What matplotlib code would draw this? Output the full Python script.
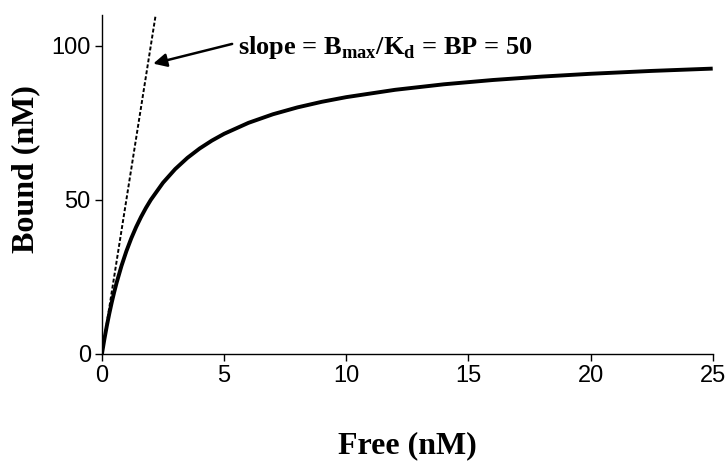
import matplotlib.pyplot as plt

# Saturation binding curve (Bmax = 100 nM, Kd = 2 nM)
free_nM = [0, 0.1, 0.2, 0.3, 0.4, 0.5, 0.6, 0.8, 1.0, 1.2, 1.4, 1.6, 1.8, 2.0,
           2.5, 3, 3.5, 4, 4.5, 5, 6, 7, 8, 9, 10, 12, 14, 16, 18, 20, 22.5, 25]
bound_nM = [0, 4.76, 9.09, 13.04, 16.67, 20.0, 23.08, 28.57, 33.33, 37.5, 41.18,
            44.44, 47.37, 50.0, 55.56, 60.0, 63.64, 66.67, 69.23, 71.43, 75.0,
            77.78, 80.0, 81.82, 83.33, 85.71, 87.5, 88.89, 90.0, 90.91, 91.84, 92.59]
bp_slope = 50  # Bmax / Kd

x_ticks = [0, 5, 10, 15, 20, 25]
y_ticks = [0, 50, 100]

plt.rcParams['mathtext.fontset'] = 'custom'
plt.rcParams['mathtext.rm'] = 'Liberation Serif:bold'

fig = plt.figure(figsize=(7.28, 4.67), dpi=100)
ax = fig.add_axes([0.140, 0.242, 0.839, 0.726])

ax.plot(free_nM, bound_nM, color='black', linewidth=2.8, solid_capstyle='butt')
ax.axline((0, 0), slope=bp_slope, color='black', linewidth=1.4,
          linestyle=(0, (2.0, 1.1)))

ax.set_xlim(0, 25)
ax.set_ylim(0, 110)
ax.set_xticks(x_ticks)
ax.set_yticks(y_ticks)

for side in ['top', 'right']:
    ax.spines[side].set_visible(False)
for side in ['left', 'bottom']:
    ax.spines[side].set_linewidth(1.0)

ax.tick_params(direction='out', length=5, width=1.0, labelsize=17, pad=3)
for lab in ax.get_xticklabels() + ax.get_yticklabels():
    lab.set_fontfamily('Liberation Sans')

# axis titles
fig.text(26 / 728, 1 - 169 / 467, 'Bound (nM)', rotation=90, ha='center',
         va='center', fontsize=23, fontweight='bold', fontfamily='Liberation Serif')
fig.text(407 / 728, 1 - 446 / 467, 'Free (nM)', ha='center', va='center',
         fontsize=23, fontweight='bold', fontfamily='Liberation Serif')

# tangent annotation
ax.annotate('', xy=(2.1, 94.2), xytext=(5.33, 100.6),
            arrowprops=dict(arrowstyle='-|>', color='black', lw=1.8,
                            mutation_scale=20, shrinkA=0, shrinkB=0))
ax.text(5.57, 97.4, r'slope = B$_\mathregular{max}$/K$_\mathregular{d}$ = BP = 50',
        fontsize=19, fontweight='bold', fontfamily='Liberation Serif',
        ha='left', va='baseline')

plt.savefig('out.png', dpi=100)
